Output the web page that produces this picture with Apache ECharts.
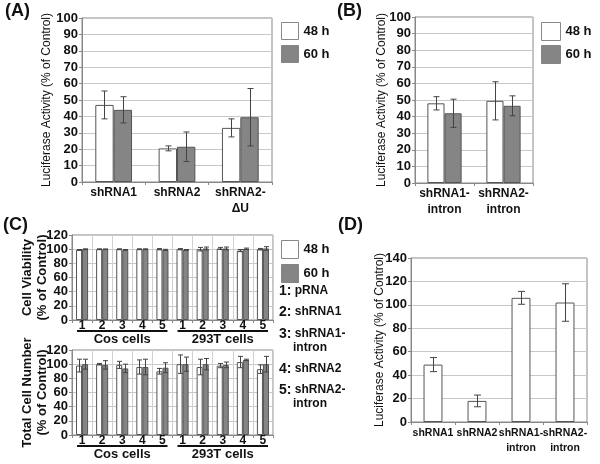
<!DOCTYPE html>
<html>
<head>
<meta charset="utf-8">
<script src="https://cdn.jsdelivr.net/npm/echarts/dist/echarts.min.js"></script>
<style>
html, body { margin: 0; padding: 0; background: #fff; }
#main { width: 600px; height: 464px; }
</style>
</head>
<body>
<div id="main"></div>
<script>
const FONT = '"Liberation Sans", Arial, sans-serif';

// (A) luciferase activity
const aCats = ['shRNA1', 'shRNA2', 'shRNA2-\nΔU'];
const a48 = [47, 20.5, 33];
const a48Err = [8.5, 1.5, 5.5];
const a60 = [44, 21.5, 39.5];
const a60Err = [8, 9, 17.5];

// (B) intron constructs
const bCats = ['shRNA1-\nintron', 'shRNA2-\nintron'];
const b48 = [48, 49.5];
const b48Err = [4, 11.5];
const b60 = [42, 46.5];
const b60Err = [8.5, 6];

// (C) viability / cell number, Cos cells 1-5 then 293T cells 1-5
const cCats = ['1', '2', '3', '4', '5', '1', '2', '3', '4', '5'];
const cGroups = ['Cos cells', '293T cells'];
const via48 = [99, 100, 100, 100, 100, 100, 100, 101, 98, 100];
const via48Err = [0.5, 0.5, 0.5, 0.5, 0.8, 0.8, 2.5, 1.5, 1.5, 1];
const via60 = [100, 100, 99, 100, 99, 99, 101, 101, 100.5, 101];
const via60Err = [0.5, 0.3, 0.5, 0.5, 0.8, 0.5, 2, 2, 1, 2.5];
const num48 = [98, 100, 99, 96, 90, 100, 96, 98, 103, 93];
const num48Err = [9, 1, 5, 10, 4, 13, 11, 3, 8, 6];
const num60 = [100, 99, 94, 96, 95, 100, 100, 99, 106, 100];
const num60Err = [7, 6, 6, 11, 7, 10, 8, 4, 1, 11];
const cKeyNum = ['1:', '2:', '3:', '4:', '5:'];
const cKeyName = ['pRNA', 'shRNA1', 'shRNA1-', 'shRNA2', 'shRNA2-'];

// (D)
const dCats = ['shRNA1', 'shRNA2', 'shRNA1-\nintron', 'shRNA2-\nintron'];
const dVal = [49, 18, 106, 102];
const dErr = [6, 5, 5.5, 16];

const WHITE = '#ffffff';
const GRAY = '#858585';
const EDGE = '#555';

function errData(vals, errs){
	return vals.map((v, i) => [i, v - errs[i], v + errs[i]]);
}

function errSeries(vals, errs, gi, shift, cap){
	return {
		type: 'custom',
		xAxisIndex: gi,
		yAxisIndex: gi,
		z: 5,
		silent: true,
		data: errData(vals, errs),
		encode: { x: 0, y: [1, 2] },
		renderItem: function(params, api){
			let w = api.size([1, 0])[0];
			let top = api.coord([api.value(0), api.value(2)]);
			let bot = api.coord([api.value(0), api.value(1)]);
			let x = Math.round(top[0] + shift * w) + 0.5;
			let st = { stroke: '#444', lineWidth: 1 };
			return {
				type: 'group',
				children: [
					{ type: 'line', shape: { x1: x, y1: top[1], x2: x, y2: bot[1] }, style: st },
					{ type: 'line', shape: { x1: x - cap, y1: top[1], x2: x + cap, y2: top[1] }, style: st },
					{ type: 'line', shape: { x1: x - cap, y1: bot[1], x2: x + cap, y2: bot[1] }, style: st }
				]
			};
		}
	};
}

function bar(name, vals, gi, color, width){
	return {
		name: name,
		type: 'bar',
		xAxisIndex: gi,
		yAxisIndex: gi,
		data: vals,
		barWidth: width,
		barGap: '0%',
		silent: true,
		itemStyle: { color: color, borderColor: EDGE, borderWidth: 1 }
	};
}

function xAx(gi, cats, size, margin, lh, splitShow){
	return {
		type: 'category',
		gridIndex: gi,
		data: cats,
		axisLine: { lineStyle: { color: '#888' } },
		axisTick: { show: true, length: 3, lineStyle: { color: '#888' } },
		axisLabel: {
			interval: 0,
			margin: margin,
			color: '#111',
			fontFamily: FONT,
			fontWeight: 'bold',
			fontSize: size,
			lineHeight: lh
		},
		splitLine: { show: splitShow, lineStyle: { color: '#d0d0d0' } }
	};
}

function yAx(gi, max, interval, name, nameGap, nameSize, nameWeight){
	return {
		type: 'value',
		gridIndex: gi,
		min: 0,
		max: max,
		interval: interval,
		name: name,
		nameLocation: 'middle',
		nameGap: nameGap,
		nameMoveOverlap: false,
		nameTextStyle: {
			fontFamily: FONT,
			fontSize: nameSize,
			fontWeight: nameWeight,
			color: '#111',
			lineHeight: 15
		},
		axisLine: { show: true, lineStyle: { color: '#888' } },
		axisTick: { show: true, length: 3, lineStyle: { color: '#888' } },
		axisLabel: {
			margin: 4,
			color: '#111',
			fontFamily: FONT,
			fontWeight: 'bold',
			fontSize: 13
		},
		splitLine: { show: true, lineStyle: { color: '#c8c8c8' } }
	};
}

function legendAt(left, top, w, h, gap){
	return {
		orient: 'vertical',
		left: left,
		top: top,
		itemWidth: w,
		itemHeight: h,
		itemGap: gap,
		icon: 'rect',
		selectedMode: false,
		textStyle: { fontFamily: FONT, fontWeight: 'bold', fontSize: 13, color: '#111' },
		data: [
			{ name: '48 h', itemStyle: { color: WHITE, borderColor: '#888', borderWidth: 1 } },
			{ name: '60 h', itemStyle: { color: GRAY, borderColor: GRAY, borderWidth: 1 } }
		]
	};
}

const grids = [
	{ left: 82, top: 18, width: 190, height: 164 },
	{ left: 415, top: 17, width: 118, height: 166 },
	{ left: 72, top: 235, width: 201, height: 85 },
	{ left: 72, top: 350, width: 201, height: 85 },
	{ left: 411, top: 258, width: 176, height: 164 }
].map(g => Object.assign({ show: true, borderColor: '#888', borderWidth: 1, backgroundColor: 'transparent' }, g));

function staticGraphics(){
	let out = [];
	let lbl = (txt, x, y) => ({
		type: 'text', left: x, top: y,
		style: { text: txt, fontFamily: FONT, fontWeight: 'bold', fontSize: 18, fill: '#111' }
	});
	out.push(lbl('(A)', 5, 2), lbl('(B)', 337, 2), lbl('(C)', 3, 216), lbl('(D)', 338, 216));
	let keyY = [291, 312, 334, 369, 390];
	cKeyNum.forEach((n, i) => {
		out.push({
			type: 'text', x: 279, y: keyY[i],
			style: {
				text: '{n|' + n + '} ' + cKeyName[i],
				fontFamily: FONT, fontWeight: 'bold', fontSize: 12, fill: '#111',
				verticalAlign: 'middle',
				rich: { n: { fontFamily: FONT, fontWeight: 'bold', fontSize: 14, fill: '#111' } }
			}
		});
	});
	[348, 404].forEach(y => {
		out.push({
			type: 'text', x: 293, y: y,
			style: { text: 'intron', fontFamily: FONT, fontWeight: 'bold', fontSize: 12, fill: '#111', verticalAlign: 'middle' }
		});
	});
	return out;
}

const option = {
	backgroundColor: '#fff',
	animation: false,
	grid: grids,
	legend: [
		legendAt(276, 17, 17, 17, 5),
		legendAt(536, 17, 19, 18, 4),
		legendAt(276, 235, 17, 18, 5)
	],
	xAxis: [
		xAx(0, aCats, 12, 3, 16, false),
		xAx(1, bCats, 12, 3, 16, false),
		xAx(2, cCats, 12, 0, 12, true),
		xAx(3, cCats, 12, 0, 12, true),
		xAx(4, dCats, 10.5, 4, 15, false)
	],
	yAxis: [
		yAx(0, 100, 10, 'Luciferase Activity (% of Control)', 28, 12, 'normal'),
		yAx(1, 100, 10, 'Luciferase Activity (% of Control)', 26, 12, 'normal'),
		yAx(2, 120, 20, 'Cell Viability\n(% of Control)', 22, 13, 'bold'),
		yAx(3, 120, 20, 'Total Cell Number\n(% of Control)', 22, 13, 'bold'),
		yAx(4, 140, 20, 'Luciferase Activity (% of Control)', 24, 12, 'normal')
	],
	series: [
		bar('48 h', a48, 0, WHITE, '29%'),
		bar('60 h', a60, 0, GRAY, '29%'),
		errSeries(a48, a48Err, 0, -0.145, 3),
		errSeries(a60, a60Err, 0, 0.145, 3),

		bar('48 h', b48, 1, WHITE, '29%'),
		bar('60 h', b60, 1, GRAY, '29%'),
		errSeries(b48, b48Err, 1, -0.145, 3),
		errSeries(b60, b60Err, 1, 0.145, 3),

		bar('48 h', via48, 2, WHITE, '30%'),
		bar('60 h', via60, 2, GRAY, '30%'),
		errSeries(via48, via48Err, 2, -0.15, 2.5),
		errSeries(via60, via60Err, 2, 0.15, 2.5),

		bar('48 h', num48, 3, WHITE, '30%'),
		bar('60 h', num60, 3, GRAY, '30%'),
		errSeries(num48, num48Err, 3, -0.15, 2.5),
		errSeries(num60, num60Err, 3, 0.15, 2.5),

		bar('48 h', dVal, 4, WHITE, '43%'),
		errSeries(dVal, dErr, 4, 0, 3.5)
	],
	graphic: staticGraphics()
};

const myChart = echarts.init(document.getElementById('main'));
myChart.setOption(option);

// group underlines + labels under panel C axes
function groupDeco(){
	let out = staticGraphics();
	[2, 3].forEach(gi => {
		let g = grids[gi];
		let bottom = g.top + g.height;
		let c0 = myChart.convertToPixel({ xAxisIndex: gi }, 0);
		let c1 = myChart.convertToPixel({ xAxisIndex: gi }, 1);
		let w = c1 - c0;
		cGroups.forEach((name, k) => {
			let first = myChart.convertToPixel({ xAxisIndex: gi }, k * 5);
			let last = myChart.convertToPixel({ xAxisIndex: gi }, k * 5 + 4);
			let x1 = first - w / 2 + 5, x2 = last + w / 2 - 5;
			out.push({
				type: 'line',
				shape: { x1: x1, y1: bottom + 11, x2: x2, y2: bottom + 11 },
				style: { stroke: '#111', lineWidth: 2 }
			});
			out.push({
				type: 'text',
				x: (x1 + x2) / 2,
				y: bottom + 19,
				style: {
					text: name, fontFamily: FONT, fontWeight: 'bold', fontSize: 13,
					fill: '#111', align: 'center', verticalAlign: 'middle'
				}
			});
		});
	});
	return out;
}
myChart.setOption({ graphic: groupDeco() }, { replaceMerge: ['graphic'] });
</script>
</body>
</html>
